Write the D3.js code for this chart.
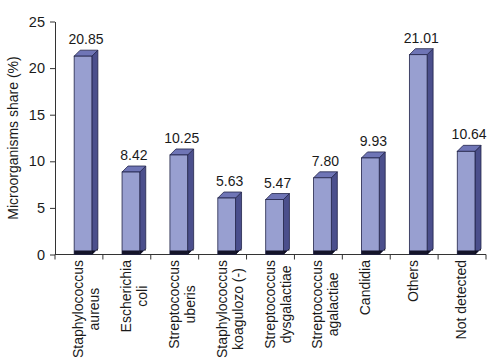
<!DOCTYPE html>
<html><head><meta charset="utf-8">
<script src="https://cdn.jsdelivr.net/npm/d3@7"></script>
<style>body{margin:0;background:#fff}svg{display:block}text{font-family:"Liberation Sans",Arial,sans-serif;fill:#1a1a1a}</style>
</head><body><svg id="c" width="500" height="363"></svg>
<script>
const categories = [["Staphylococcus","aureus"],["Escherichia","coli"],["Streptococcus","uberis"],["Staphylococcus","koagulozo (-)"],["Streptococcus","dysgalactiae"],["Streptococcus","agalactiae"],["Candidia"],["Others"],["Not detected"]];
const values = [20.85, 8.42, 10.25, 5.63, 5.47, 7.80, 9.93, 21.01, 10.64];
const valueLabels = ["20.85","8.42","10.25","5.63","5.47","7.80","9.93","21.01","10.64"];
const yTicks = [0,5,10,15,20,25];
const yTitle = "Microorganisms share (%)";

const svg = d3.select("#c");
const L = 55, R = 486, T = 21.5, B = 254.5;
const x = d3.scaleBand().domain(d3.range(values.length)).range([L, R]).paddingInner(0).paddingOuter(0);
const y = d3.scaleLinear().domain([0, 25]).range([B, T]);
const dx = 6, dy = 6, lift = 4, floorH = 4;
const fx0 = 0.40, fw = 0.37;

// Y axis
const yAxis = svg.append("g").attr("transform", `translate(${L},0)`)
  .call(d3.axisLeft(y).tickValues(yTicks).tickSize(5).tickPadding(5).tickSizeOuter(0));
yAxis.select(".domain").attr("stroke", "#333");
yAxis.selectAll(".tick line").attr("stroke", "#333");
yAxis.selectAll("text").attr("font-size", 14.5).style("font-family", '"Liberation Sans",Arial,sans-serif').attr("fill", "#1a1a1a");

// X axis line with ticks at boundaries
const xg = svg.append("g");
xg.append("line").attr("x1", L).attr("x2", R).attr("y1", B).attr("y2", B).attr("stroke", "#333");
const bounds = d3.range(values.length + 1).map(i => i < values.length ? x(i) : x(values.length - 1) + x.bandwidth());
xg.selectAll("line.t").data(bounds).enter().append("line").attr("class", "t")
  .attr("x1", d => d).attr("x2", d => d).attr("y1", B).attr("y2", B + 5).attr("stroke", "#333");

// Bars
const bars = svg.append("g").selectAll("g").data(values).enter().append("g");
bars.each(function(v, i) {
  const g = d3.select(this);
  const x0 = x(i) + x.bandwidth() * fx0, x1 = x0 + x.bandwidth() * fw;
  const yt = y(v) - lift, yb = y(0);
  const stroke = "#22244a";
  // side
  g.append("path").attr("d", `M${x1},${yt}L${x1+dx},${yt-dy}L${x1+dx},${yb-dy}L${x1},${yb}Z`)
    .attr("fill", "#4b4f8c").attr("stroke", stroke).attr("stroke-width", 0.8);
  // top
  g.append("path").attr("d", `M${x0},${yt}L${x0+dx},${yt-dy}L${x1+dx},${yt-dy}L${x1},${yt}Z`)
    .attr("fill", "#6f75b6").attr("stroke", stroke).attr("stroke-width", 0.8);
  // front
  g.append("rect").attr("x", x0).attr("y", yt).attr("width", x1 - x0).attr("height", yb - yt)
    .attr("fill", "#989fd0").attr("stroke", stroke).attr("stroke-width", 0.8);
  // floor dark strip
  g.append("rect").attr("x", x0).attr("y", yb - floorH).attr("width", x1 - x0).attr("height", floorH).attr("fill", "#15152a");
  g.append("path").attr("d", `M${x1},${yb}L${x1+dx},${yb-dy}L${x1+dx},${yb-floorH}L${x1},${yb-floorH}Z`).attr("fill", "#0e0e1e");
  // value label
  g.append("text").attr("x", (x0 + x1) / 2 + dx / 2).attr("y", yt - dy - 6)
    .attr("text-anchor", "middle").attr("font-size", 14).text(valueLabels[i]);
});

// Category labels (rotated, block top-aligned, lines centered)
const labTop = 260, lineGap = 16;
categories.forEach((lines, i) => {
  const cx = x(i) + x.bandwidth() / 2 + 1;
  const g = svg.append("g");
  const ts = lines.map((s, j) => g.append("text").attr("font-size", 14).attr("text-anchor", "middle").text(s));
  const maxL = d3.max(ts, t => t.node().getComputedTextLength());
  const cy = labTop + maxL / 2;
  ts.forEach((t, j) => {
    const lx = cx + j * lineGap + 3;
    t.attr("transform", `translate(${lx},${cy}) rotate(-90)`);
  });
});

// Y title
svg.append("text").attr("transform", `translate(18,${(T + B) / 2}) rotate(-90)`)
  .attr("text-anchor", "middle").attr("font-size", 14).text(yTitle);
</script></body></html>
